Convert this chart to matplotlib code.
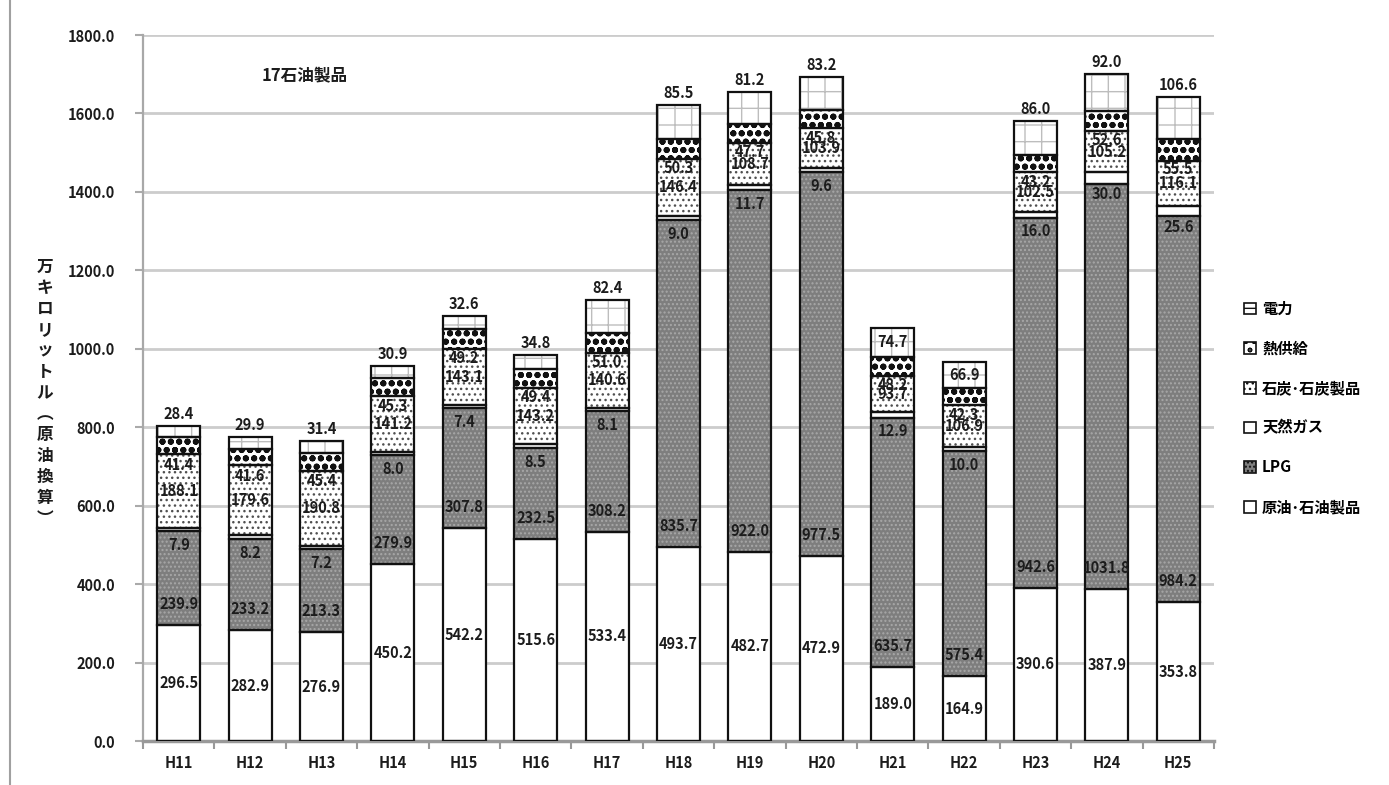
import matplotlib
matplotlib.use('Agg')
import matplotlib.pyplot as plt
import numpy as np
from matplotlib.patches import Patch
from matplotlib.lines import Line2D

plt.rcParams['font.family'] = ['Noto Sans CJK JP', 'DejaVu Sans']

# ---- data ----
years = ['H11', 'H12', 'H13', 'H14', 'H15', 'H16', 'H17', 'H18', 'H19', 'H20',
         'H21', 'H22', 'H23', 'H24', 'H25']
crude = [296.5, 282.9, 276.9, 450.2, 542.2, 515.6, 533.4, 493.7, 482.7, 472.9,
         189.0, 164.9, 390.6, 387.9, 353.8]
lpg = [239.9, 233.2, 213.3, 279.9, 307.8, 232.5, 308.2, 835.7, 922.0, 977.5,
       635.7, 575.4, 942.6, 1031.8, 984.2]
gas = [7.9, 8.2, 7.2, 8.0, 7.4, 8.5, 8.1, 9.0, 11.7, 9.6, 12.9, 10.0, 16.0, 30.0, 25.6]
coal = [188.1, 179.6, 190.8, 141.2, 143.1, 143.2, 140.6, 146.4, 108.7, 103.9,
        93.7, 106.9, 102.5, 105.2, 116.1]
heat = [41.4, 41.6, 45.4, 45.3, 49.2, 49.4, 51.0, 50.3, 47.7, 45.8, 48.2, 42.3, 43.2, 52.6, 55.5]
power = [28.4, 29.9, 31.4, 30.9, 32.6, 34.8, 82.4, 85.5, 81.2, 83.2, 74.7, 66.9, 86.0, 92.0, 106.6]
series_names = ['原油･石油製品', 'LPG', '天然ガス', '石炭･石炭製品', '熱供給', '電力']
series = [crude, lpg, gas, coal, heat, power]
yticks = [0, 200, 400, 600, 800, 1000, 1200, 1400, 1600, 1800]
title = '17石油製品'
ylabel = '万キロリットル︵原油換算︶'
power_inside = ['H21', 'H22']

# ---- styles ----
styles = [
    dict(fc='white', hatch=None, hc=None, hlw=1.0),
    dict(fc='#7e7e7e', hatch='....', hc='#a8a8a8', hlw=1.0),
    dict(fc='white', hatch=None, hc=None, hlw=1.0),
    dict(fc='white', hatch='...', hc='#505050', hlw=1.0),
    dict(fc='white', hatch='oo', hc='#111111', hlw=2.0),
    dict(fc='white', hatch='+', hc='#bdbdbd', hlw=1.0),
]
# label placement per series: (anchor, pixel offset)
label_rules = [('center', 0), ('base', 21), ('center', -16), ('center', 0),
               ('center', -19), ('top', 12)]

fig = plt.figure(figsize=(13.89, 7.85), dpi=100)
ax = fig.add_axes([143 / 1389, 1 - 741 / 785, 1071 / 1389, 706 / 785])
x = np.arange(len(years))
width = 0.6
txtc = '#1c1c1c'

bottom = np.zeros(len(years))
bottoms = []
for vals, st in zip(series, styles):
    vals = np.array(vals, dtype=float)
    bottoms.append(bottom.copy())
    if st['hatch']:
        with plt.rc_context({'hatch.linewidth': st['hlw']}):
            ax.bar(x, vals, width, bottom=bottom, color=st['fc'], edgecolor=st['hc'],
                   hatch=st['hatch'], linewidth=0, zorder=2)
    else:
        ax.bar(x, vals, width, bottom=bottom, color=st['fc'], linewidth=0, zorder=2)
    ax.bar(x, vals, width, bottom=bottom, fill=False, edgecolor='#111111',
           linewidth=1.6, zorder=3)
    bottom = bottom + vals

# data labels
for k, (vals, (anchor, off)) in enumerate(zip(series, label_rules)):
    for i, v in enumerate(vals):
        b = bottoms[k][i]
        a, o = anchor, off
        if k == 5 and years[i] in power_inside:
            a, o = 'center', 0
        if a == 'center':
            y = b + v / 2
        elif a == 'base':
            y = b
        else:
            y = b + v
        ax.annotate(f'{v:.1f}', (x[i], y), xytext=(0, o), textcoords='offset pixels',
                    ha='center', va='center', fontsize=10.5, fontweight='bold',
                    color=txtc, zorder=5)

# axes styling
ax.set_xlim(-0.5, len(years) - 0.5)
ax.set_ylim(0, 1800)
ax.set_yticks(yticks)
ax.set_yticklabels([f'{t:.1f}' for t in yticks], fontsize=10.5, fontweight='bold', color=txtc)
ax.set_xticks(x)
ax.set_xticklabels(years, fontsize=10.5, fontweight='bold', color=txtc)
ax.set_xticks(np.arange(-0.5, len(years), 1.0), minor=True)
ax.tick_params(axis='x', which='major', length=0, pad=10)
ax.tick_params(axis='x', which='minor', length=6, width=1.5, color='#999999', direction='out')
ax.tick_params(axis='y', length=6, width=1.5, color='#aaaaaa', direction='out', pad=14)
ax.yaxis.grid(True, color='#cccccc', linewidth=2.0, zorder=0)
ax.set_axisbelow(True)
for s in ['top', 'right']:
    ax.spines[s].set_visible(False)
ax.spines['left'].set_color('#a8a8a8')
ax.spines['left'].set_linewidth(1.6)
ax.spines['bottom'].set_color('#999999')
ax.spines['bottom'].set_linewidth(2.5)

ax.text(0.151, 0.942, title, transform=ax.transAxes, ha='center', va='center',
        fontsize=12, fontweight='bold', color=txtc)

fig.text(45 / 1389, 1 - 393 / 785, '\n'.join(ylabel), ha='center', va='center',
         fontsize=12, fontweight='bold', color=txtc, linespacing=1.22)

# left frame line
fig.add_artist(Line2D([10 / 1389, 10 / 1389], [0, 1], transform=fig.transFigure,
                      color='#a0a0a0', linewidth=1.5))

# legend
handles = []
for st, name in zip(styles, series_names):
    handles.append(Patch(facecolor=st['fc'], edgecolor='#111111', hatch=st['hatch'],
                         linewidth=1.2, label=name))
handles = handles[::-1]
fig.legend(handles=handles, loc='upper left', bbox_to_anchor=(1230 / 1389, 1 - 287 / 785),
           frameon=False, handlelength=0.8, handleheight=0.8, handletextpad=0.4,
           labelspacing=1.55, prop={'size': 11, 'weight': 'bold'})

fig.savefig('out.png', dpi=100)
